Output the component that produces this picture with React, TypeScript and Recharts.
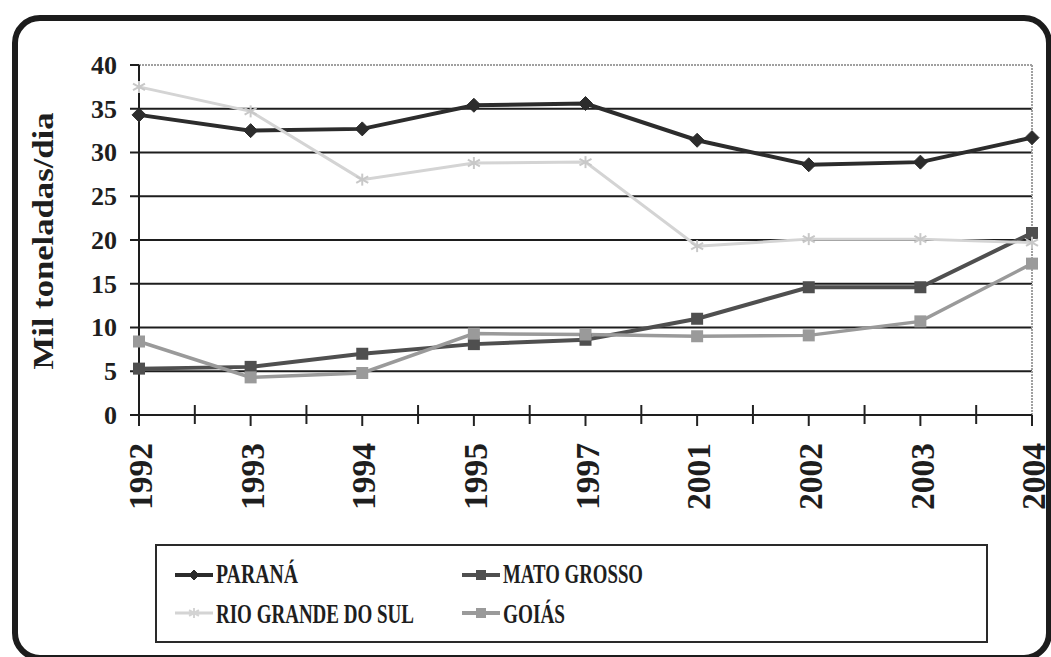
import React from 'react';
import { LineChart, Line, XAxis, YAxis, ReferenceLine, Legend } from 'recharts';

// Categories and series (mil toneladas/dia)
const years = ['1992', '1993', '1994', '1995', '1997', '2001', '2002', '2003', '2004'];
const parana = [34.3, 32.5, 32.7, 35.4, 35.6, 31.4, 28.6, 28.9, 31.7];
const matoGrosso = [5.3, 5.5, 7.0, 8.1, 8.6, 11.0, 14.6, 14.6, 20.8];
const rioGrandeDoSul = [37.5, 34.7, 26.9, 28.8, 28.9, 19.3, 20.1, 20.1, 19.7];
const goias = [8.4, 4.3, 4.8, 9.3, 9.2, 9.0, 9.1, 10.7, 17.3];

const yTicks = [0, 5, 10, 15, 20, 25, 30, 35, 40];
const gridValues = [5, 10, 15, 20, 25, 30, 35];

const seriesNames = {
  parana: 'PARANÁ',
  matoGrosso: 'MATO GROSSO',
  rioGrandeDoSul: 'RIO GRANDE DO SUL',
  goias: 'GOIÁS',
};

const COLORS = {
  parana: '#2c2c2c',
  matoGrosso: '#4f4f4f',
  rioGrandeDoSul: '#d4d4d4',
  goias: '#9a9a9a',
};

const data = years.map((year, i) => ({
  idx: i,
  year,
  parana: parana[i],
  matoGrosso: matoGrosso[i],
  rioGrandeDoSul: rioGrandeDoSul[i],
  goias: goias[i],
}));

// year ticks on whole indices, small crossing ticks half way between
const xTicks: number[] = [];
for (let i = 0; i <= years.length - 1; i += 0.5) xTicks.push(i);

const FONT = "'Liberation Serif', 'Times New Roman', 'DejaVu Serif Condensed', 'DejaVu Serif', serif";
const textStyle = { fontFamily: FONT, fontWeight: 700 } as React.CSSProperties;

const Diamond = ({ cx, cy, r, fill }: any) => (
  <path d={`M${cx},${cy - r}L${cx + r},${cy}L${cx},${cy + r}L${cx - r},${cy}Z`} fill={fill} stroke={fill} strokeWidth={1} />
);

const Square = ({ cx, cy, r, fill }: any) => (
  <rect x={cx - r} y={cy - r} width={2 * r} height={2 * r} fill={fill} />
);

const Star = ({ cx, cy, r, fill }: any) => (
  <g stroke={fill} strokeWidth={2} fill="none">
    <line x1={cx} y1={cy - r} x2={cx} y2={cy + r} />
    <line x1={cx - r} y1={cy - r * 0.55} x2={cx + r} y2={cy + r * 0.55} />
    <line x1={cx - r} y1={cy + r * 0.55} x2={cx + r} y2={cy - r * 0.55} />
  </g>
);

const YearTick = (props: any) => {
  const { x, y, payload } = props;
  const v = payload.value as number;
  if (!Number.isInteger(v)) {
    return <line x1={x} x2={x} y1={y - 10} y2={y + 9} stroke="#222" strokeWidth={2} />;
  }
  return (
    <g>
      <line x1={x} x2={x} y1={y} y2={y + 11} stroke="#222" strokeWidth={2} />
      <text
        transform={`translate(${x + 2},${y + 28}) rotate(-90)`}
        textAnchor="end"
        dy="0.34em"
        style={{ ...textStyle, fontSize: 33 }}
        fill="#1e1e1e"
        textLength={67}
        lengthAdjust="spacingAndGlyphs"
      >
        {years[v]}
      </text>
    </g>
  );
};

const YLabel = (props: any) => {
  const vb = props.viewBox || { x: 59, y: 65, width: 80, height: 350 };
  const cx = vb.x - 6;
  const cy = vb.y + vb.height / 2 + 1;
  return (
    <text
      transform={`translate(${cx},${cy}) rotate(-90)`}
      textAnchor="middle"
      style={{ ...textStyle, fontSize: 30 }}
      fill="#1e1e1e"
      textLength={257}
      lengthAdjust="spacingAndGlyphs"
    >
      Mil toneladas/dia
    </text>
  );
};

const YValueTick = (props: any) => {
  const { x, y, payload } = props;
  return (
    <text x={x} y={y} dy="0.34em" textAnchor="end" style={{ ...textStyle, fontSize: 26 }} fill="#1e1e1e">
      {payload.value}
    </text>
  );
};

const legendItems = [
  { key: 'parana', col: 0, row: 0, len: 82, Marker: Diamond, r: 5, w: 4 },
  { key: 'matoGrosso', col: 1, row: 0, len: 140, Marker: Square, r: 5, w: 4 },
  { key: 'rioGrandeDoSul', col: 0, row: 1, len: 198, Marker: Star, r: 5, w: 3 },
  { key: 'goias', col: 1, row: 1, len: 62, Marker: Square, r: 5, w: 4 },
] as const;

const LegendBox = () => (
  <svg width={833} height={99} style={{ display: 'block' }}>
    <rect x={1} y={1} width={831} height={97} fill="#fff" stroke="#2a2a2a" strokeWidth={2} />
    {legendItems.map((it) => {
      const x0 = it.col === 0 ? 20 : 307;
      const ly = it.row === 0 ? 31 : 69;
      const by = it.row === 0 ? 39 : 79;
      const color = (COLORS as any)[it.key];
      const M = it.Marker as any;
      return (
        <g key={it.key}>
          <line x1={x0} x2={x0 + 38} y1={ly} y2={ly} stroke={color} strokeWidth={it.w} />
          <M cx={x0 + 19} cy={ly} r={it.r} fill={color} />
          <text
            x={x0 + 41}
            y={by}
            style={{ ...textStyle, fontSize: 28 }}
            fill="#1e1e1e"
            textLength={it.len}
            lengthAdjust="spacingAndGlyphs"
          >
            {(seriesNames as any)[it.key]}
          </text>
        </g>
      );
    })}
  </svg>
);

export default function App() {
  return (
    <div style={{ position: 'absolute', left: 0, top: 0, width: 1051, height: 657, background: '#fff', overflow: 'hidden' }}>
      <div
        style={{
          position: 'absolute',
          left: 12,
          top: 15,
          width: 1040,
          height: 646,
          boxSizing: 'border-box',
          border: '6px solid #1c1c1c',
          borderRadius: 28,
        }}
      />
      <div style={{ position: 'absolute', left: 0, top: 0 }}>
        <LineChart width={1051} height={657} data={data} margin={{ top: 65, right: 19, bottom: 142, left: 59 }}>
          {gridValues.map((v) => (
            <ReferenceLine key={v} y={v} stroke="#1e1e1e" strokeWidth={2} ifOverflow="visible" />
          ))}
          <ReferenceLine y={40} stroke="#a0a0a0" strokeWidth={2} strokeDasharray="2 1" />
          <ReferenceLine x={8} stroke="#a0a0a0" strokeWidth={2} strokeDasharray="2 1" />
          <XAxis
            dataKey="idx"
            type="number"
            domain={[0, years.length - 1]}
            ticks={xTicks}
            interval={0}
            height={100}
            tickSize={0}
            tickMargin={0}
            tickLine={false}
            axisLine={{ stroke: '#1e1e1e', strokeWidth: 2 }}
            tick={<YearTick />}
          />
          <YAxis
            type="number"
            domain={[0, 40]}
            ticks={yTicks}
            interval={0}
            width={80}
            tickSize={9}
            tickMargin={13}
            axisLine={{ stroke: '#1e1e1e', strokeWidth: 2 }}
            tickLine={{ stroke: '#1e1e1e', strokeWidth: 2 }}
            tick={<YValueTick />}
            label={{ content: (p: any) => <YLabel {...p} /> }}
          />
          <Line
            dataKey="parana"
            name={seriesNames.parana}
            stroke={COLORS.parana}
            strokeWidth={4}
            isAnimationActive={false}
            activeDot={false}
            dot={(p: any) => <Diamond key={`pr-${p.index}`} cx={p.cx} cy={p.cy} r={7} fill={COLORS.parana} />}
          />
          <Line
            dataKey="matoGrosso"
            name={seriesNames.matoGrosso}
            stroke={COLORS.matoGrosso}
            strokeWidth={4}
            isAnimationActive={false}
            activeDot={false}
            dot={(p: any) => <Square key={`mt-${p.index}`} cx={p.cx} cy={p.cy} r={6} fill={COLORS.matoGrosso} />}
          />
          <Line
            dataKey="rioGrandeDoSul"
            name={seriesNames.rioGrandeDoSul}
            stroke={COLORS.rioGrandeDoSul}
            strokeWidth={3}
            isAnimationActive={false}
            activeDot={false}
            dot={(p: any) => <Star key={`rs-${p.index}`} cx={p.cx} cy={p.cy} r={6} fill="#c8c8c8" />}
          />
          <Line
            dataKey="goias"
            name={seriesNames.goias}
            stroke={COLORS.goias}
            strokeWidth={3.5}
            isAnimationActive={false}
            activeDot={false}
            dot={(p: any) => <Square key={`go-${p.index}`} cx={p.cx} cy={p.cy} r={6} fill={COLORS.goias} />}
          />
          <Legend
            layout="horizontal"
            verticalAlign="middle"
            align="center"
            content={() => <LegendBox />}
            wrapperStyle={{ left: 155, top: 544, width: 833, height: 99 }}
          />
        </LineChart>
      </div>
    </div>
  );
}
